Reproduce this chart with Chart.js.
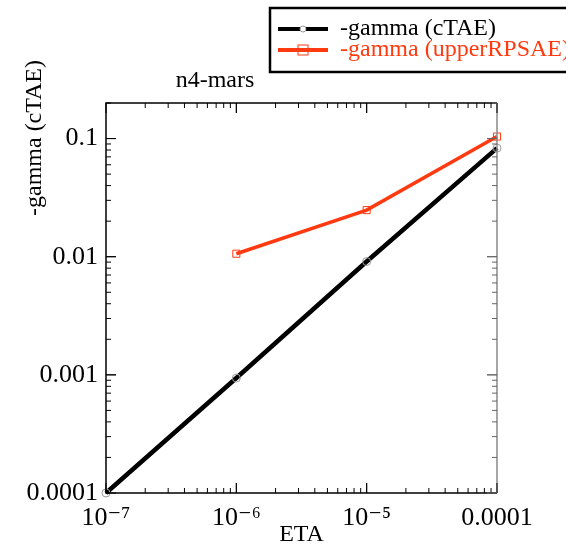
<!DOCTYPE html>
<html>
<head>
<meta charset="utf-8">
<script src="https://cdn.jsdelivr.net/npm/chart.js@4"></script>
<style>
  html, body { margin: 0; padding: 0; background: #fff; }
  #wrap { width: 566px; height: 545px; }
</style>
</head>
<body>
<div id="wrap"><canvas id="myChart" width="566" height="545"></canvas></div>
<script>
let etaValues = [1e-7, 1e-6, 1e-5, 1e-4];
let gammaTAE = [0.0001, 0.00094, 0.0091, 0.083];
let etaUpper = [1e-6, 1e-5, 1e-4];
let gammaUpper = [0.0106, 0.0248, 0.104];
let xTickValues = [1e-7, 1e-6, 1e-5, 1e-4];
let xTickLabels = ['10\u207B\u2077', '10\u207B\u2076', '10\u207B\u2075', '0.0001'];
let yTickValues = [0.0001, 0.001, 0.01, 0.1];
let yTickLabels = ['0.0001', '0.001', '0.01', '0.1'];

let serif = "'Liberation Serif', 'DejaVu Serif', serif";
let red = '#ff3a10';

// inward ticks on all four sides, plus title, y label and legend box
let framePlugin = {
    id: 'frame',
    afterDraw(chart) {
        let ctx = chart.ctx;
        let a = chart.chartArea;
        let xs = chart.scales.x, ys = chart.scales.y;
        ctx.save();

        // box
        ctx.lineWidth = 1.5;
        ctx.strokeStyle = '#000';
        ctx.beginPath();
        ctx.moveTo(a.right, a.top); ctx.lineTo(a.left, a.top);
        ctx.lineTo(a.left, a.bottom); ctx.lineTo(a.right, a.bottom);
        ctx.stroke();
        ctx.strokeStyle = '#888';
        ctx.beginPath();
        ctx.moveTo(a.right, a.top); ctx.lineTo(a.right, a.bottom);
        ctx.stroke();

        // x ticks
        for (let d = -7; d < -4; d++) {
            for (let m = 1; m <= 10; m++) {
                let v = m * Math.pow(10, d);
                let px = xs.getPixelForValue(v);
                let len = (m === 1 || m === 10) ? 10 : 5;
                ctx.strokeStyle = '#000';
                ctx.lineWidth = 1;
                ctx.beginPath();
                ctx.moveTo(px, a.bottom); ctx.lineTo(px, a.bottom - len);
                ctx.moveTo(px, a.top); ctx.lineTo(px, a.top + len);
                ctx.stroke();
            }
        }
        // y ticks
        let yMax = ys.max;
        for (let d = -4; d < 0; d++) {
            for (let m = 1; m <= 10; m++) {
                let v = m * Math.pow(10, d);
                if (v > yMax) continue;
                let py = ys.getPixelForValue(v);
                let len = (m === 1 || m === 10) ? 10 : 5;
                ctx.lineWidth = 1;
                ctx.strokeStyle = '#000';
                ctx.beginPath();
                ctx.moveTo(a.left, py); ctx.lineTo(a.left + len, py);
                ctx.stroke();
                ctx.strokeStyle = '#666';
                ctx.beginPath();
                ctx.moveTo(a.right, py); ctx.lineTo(a.right - len, py);
                ctx.stroke();
            }
        }

        // title
        ctx.fillStyle = '#000';
        ctx.font = '24px ' + serif;
        ctx.textAlign = 'center';
        ctx.textBaseline = 'alphabetic';
        ctx.fillText('n4-mars', 215, 87);

        // y axis label
        ctx.save();
        ctx.translate(41, 138);
        ctx.rotate(-Math.PI / 2);
        ctx.textAlign = 'center';
        ctx.fillText('-gamma (cTAE)', 0, 0);
        ctx.restore();

        // legend
        ctx.fillStyle = '#fff';
        ctx.fillRect(270, 8, 300, 64);
        ctx.strokeStyle = '#000';
        ctx.lineWidth = 2.5;
        ctx.strokeRect(270, 8, 300, 64);
        let rows = [
            { label: chart.data.datasets[0].label, color: '#000', y: 29, w: 4 },
            { label: chart.data.datasets[1].label, color: red, y: 50, w: 4 }
        ];
        rows.forEach(function (r, i) {
            ctx.strokeStyle = r.color;
            ctx.lineWidth = r.w;
            ctx.beginPath();
            ctx.moveTo(278, r.y); ctx.lineTo(328, r.y);
            ctx.stroke();
            ctx.lineWidth = 1;
            if (i === 0) {
                ctx.strokeStyle = '#999';
                ctx.fillStyle = '#fff';
                ctx.beginPath();
                ctx.arc(303, r.y, 3, 0, Math.PI * 2);
                ctx.fill(); ctx.stroke();
            } else {
                ctx.strokeStyle = red;
                ctx.strokeRect(298, r.y - 5, 10, 10);
            }
            ctx.fillStyle = r.color;
            ctx.font = '24px ' + serif;
            ctx.textAlign = 'left';
            ctx.textBaseline = 'middle';
            ctx.fillText(r.label, 340, r.y);
        });
        ctx.restore();
    }
};

let chartCtx = document.getElementById('myChart').getContext('2d');

let chart1 = new Chart(chartCtx, {
    type: 'line',
    data: {
        datasets: [
            {
                label: '-gamma (cTAE)',
                data: etaValues.map((x, i) => ({ x: x, y: gammaTAE[i] })),
                borderColor: '#000',
                borderWidth: 4.5,
                pointStyle: 'circle',
                pointRadius: 4,
                pointBorderWidth: 1,
                pointBorderColor: '#999',
                pointBackgroundColor: 'rgba(255,255,255,0)',
                clip: false
            },
            {
                label: '-gamma (upperRPSAE)',
                data: etaUpper.map((x, i) => ({ x: x, y: gammaUpper[i] })),
                borderColor: red,
                borderWidth: 3.5,
                pointStyle: 'rect',
                pointRadius: 5,
                pointBorderWidth: 1,
                pointBorderColor: red,
                pointBackgroundColor: 'rgba(255,255,255,0)',
                clip: false
            }
        ]
    },
    options: {
        responsive: false,
        animation: false,
        layout: { padding: { top: 103, right: 69, left: 0, bottom: 0 } },
        plugins: {
            legend: { display: false },
            title: { display: false },
            tooltip: { enabled: false }
        },
        scales: {
            x: {
                type: 'logarithmic',
                min: 1e-7,
                max: 1e-4,
                afterBuildTicks: function (s) { s.ticks = xTickValues.map(v => ({ value: v })); },
                afterFit: function (s) { s.height = 52; },
                grid: { display: false, drawTicks: false },
                border: { display: false },
                ticks: {
                    color: '#000',
                    font: { family: serif, size: 26 },
                    padding: 10,
                    maxRotation: 0,
                    autoSkip: false,
                    callback: function (v) {
                        let i = xTickValues.findIndex(t => Math.abs(t - v) / t < 1e-6);
                        return i >= 0 ? xTickLabels[i] : '';
                    }
                },
                title: {
                    display: true,
                    text: 'ETA',
                    color: '#000',
                    font: { family: serif, size: 24 },
                    padding: { top: 0, bottom: -4 }
                }
            },
            y: {
                type: 'logarithmic',
                min: 0.0001,
                max: 0.2,
                afterBuildTicks: function (s) { s.ticks = yTickValues.map(v => ({ value: v })); },
                afterFit: function (s) { s.width = 106; },
                grid: { display: false, drawTicks: false },
                border: { display: false },
                ticks: {
                    color: '#000',
                    font: { family: serif, size: 26 },
                    padding: 8,
                    autoSkip: false,
                    callback: function (v) {
                        let i = yTickValues.findIndex(t => Math.abs(t - v) / t < 1e-6);
                        return i >= 0 ? yTickLabels[i] : '';
                    }
                }
            }
        }
    },
    plugins: [framePlugin]
});
</script>
</body>
</html>
